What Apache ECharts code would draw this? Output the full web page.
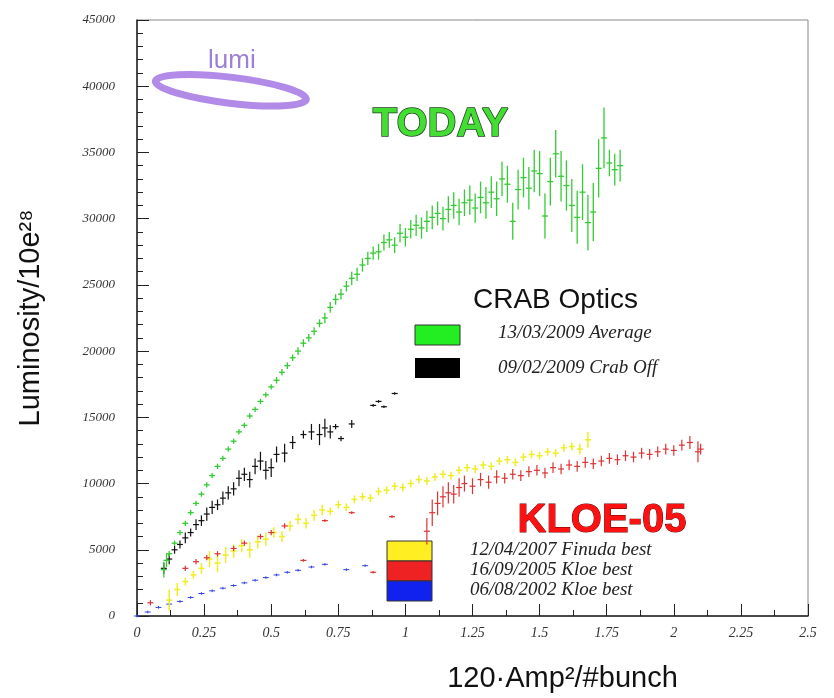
<!DOCTYPE html>
<html><head><meta charset="utf-8">
<script src="https://cdn.jsdelivr.net/npm/echarts@6/dist/echarts.min.js"></script>
<style>html,body{margin:0;background:#fff}#c{width:834px;height:698px}</style>
</head><body><div id="c"></div>
<script>
// x = 120*Amp^2/#bunch, y = luminosity/1e28, e = half error bar
var greenX = [0.10,0.11,0.12,0.14,0.16,0.18,0.20,0.22,0.24,0.26,0.28,0.30,0.32,0.34,0.36,0.38,0.40,0.42,0.44,0.46,0.48,0.50,0.52,0.54,0.56,0.58,0.60,0.62,0.64,0.66,0.68,0.70,0.72,0.74,0.76,0.78,0.80,0.82,0.84,0.86,0.88,0.90,0.92,0.94,0.96,0.98,1.00,1.02,1.04,1.06,1.08,1.10,1.12,1.14,1.16,1.18,1.20,1.22,1.24,1.26,1.28,1.30,1.32,1.34,1.36,1.38,1.40,1.42,1.44,1.46,1.48,1.50,1.52,1.54,1.56,1.58,1.60,1.62,1.64,1.66,1.68,1.70,1.72,1.74,1.76,1.78,1.80];
var greenY = [3500,4200,4700,5500,6300,7000,7800,8500,9200,9900,10600,11300,11900,12600,13200,13900,14400,15100,15600,16200,16700,17300,17800,18400,18900,19500,20000,20600,21000,21500,22100,22500,23300,23900,24300,24900,25500,25800,26500,27000,27400,27500,28200,28400,28000,28900,28600,29200,29500,29300,29800,30100,30400,30000,30700,31000,30500,31200,31400,30800,31600,31200,32000,31500,33000,32600,29800,32200,33100,32300,33600,33400,30200,32800,34900,33200,32500,31000,30100,32000,29700,30500,33800,36100,34200,33700,34000];
var greenE = [600,500,200,200,200,200,200,200,200,200,200,200,200,200,200,200,200,200,200,200,200,200,250,250,250,250,300,300,300,300,300,400,400,400,400,400,500,500,500,500,500,600,600,600,600,700,700,700,800,800,800,900,900,900,1000,1000,1000,1000,1100,1100,1200,1200,1200,1300,1300,1400,1400,1500,1500,1600,1600,1700,1700,1800,1800,1900,1900,2000,2000,2100,2100,2200,2200,2300,1000,1200,1200];

var blackX = [0.10,0.12,0.14,0.16,0.18,0.20,0.22,0.24,0.26,0.28,0.30,0.32,0.34,0.36,0.38,0.40,0.42,0.44,0.46,0.48,0.50,0.52,0.55,0.58,0.62,0.65,0.68,0.70,0.72,0.74,0.76,0.80,0.88,0.90,0.92,0.96];
var blackY = [3600,4300,5000,5400,5900,6300,6900,7200,7700,8200,8400,8900,9300,9600,10400,10700,10300,11300,11700,11000,11200,12200,12300,13100,13700,13900,13700,14200,13900,14300,13400,14500,15900,16200,15800,16800];
var blackE = [400,400,300,300,400,300,400,400,500,500,400,500,500,500,600,500,600,600,700,700,700,600,700,500,300,600,800,700,500,200,200,300,100,100,100,100];

var yellowX = [0.12,0.15,0.18,0.21,0.24,0.27,0.30,0.33,0.36,0.39,0.42,0.45,0.48,0.51,0.54,0.57,0.60,0.63,0.66,0.69,0.72,0.75,0.78,0.81,0.84,0.87,0.90,0.93,0.96,0.99,1.02,1.05,1.08,1.11,1.14,1.17,1.20,1.23,1.26,1.29,1.32,1.35,1.38,1.41,1.44,1.47,1.50,1.53,1.56,1.59,1.62,1.65,1.68];
var yellowY = [1200,2000,2600,3100,3600,4300,4000,4600,4900,5300,5000,5600,5800,6300,6000,6800,7300,7000,7600,8000,7900,8400,8200,8800,9000,8900,9400,9500,9800,9700,10000,10300,10200,10500,10700,10600,11000,11200,11100,11400,11300,11700,11800,11600,12000,12200,12100,12400,12300,12700,12800,12600,13300];
var yellowE = [800,500,300,300,400,600,700,600,500,500,600,500,500,400,400,400,400,400,400,400,300,300,300,300,300,300,300,300,300,300,300,300,300,300,300,300,300,300,300,300,300,300,300,300,300,300,300,300,300,300,300,400,600];

var redX = [0.05,0.18,0.22,0.26,0.30,0.36,0.40,0.46,0.50,0.55,0.62,0.70,0.80,0.88,0.95,1.08,1.10,1.12,1.14,1.16,1.18,1.20,1.22,1.25,1.28,1.31,1.34,1.37,1.40,1.43,1.46,1.49,1.52,1.55,1.58,1.61,1.64,1.67,1.70,1.73,1.76,1.79,1.82,1.85,1.88,1.91,1.94,1.97,2.00,2.03,2.06,2.09,2.10];
var redY = [1000,3600,4100,4400,4700,5100,5500,6000,6300,6800,4200,7200,7800,3300,7500,6400,7800,8500,9000,9300,9200,9700,10000,9800,10300,10100,10500,10400,10700,10600,10900,11000,10800,11200,11100,11400,11300,11600,11500,11700,11900,11800,12100,12000,12300,12200,12400,12600,12500,12900,13100,12400,12600];
var redE = [200,200,200,200,200,200,200,200,200,200,100,100,100,100,100,1000,1000,900,800,800,700,700,600,600,500,500,500,400,400,400,400,400,400,400,400,400,400,400,400,400,400,400,400,400,400,400,400,400,400,400,500,800,400];

var blueX = [0.00,0.04,0.08,0.12,0.16,0.20,0.24,0.28,0.32,0.36,0.40,0.44,0.48,0.52,0.56,0.60,0.65,0.70,0.78,0.85];
var blueY = [0,300,650,900,1100,1400,1700,1900,2100,2300,2500,2700,2900,3100,3300,3450,3700,3900,3500,3800];
var blueE = [100,100,100,100,100,100,100,100,100,100,100,100,100,100,100,100,100,100,100,100];

var xTicks = [0,0.25,0.5,0.75,1,1.25,1.5,1.75,2,2.25,2.5];

function pts(xs, ys, es) {
  var out = [];
  for (var i = 0; i < xs.length; i++) out.push([xs[i], ys[i], es[i]]);
  return out;
}
function errSeries(name, data, color, w) {
  return {
    name: name, type: 'custom', data: data, z: 3,
    renderItem: function (params, api) {
      var c = api.coord([api.value(0), api.value(1)]);
      var lo = api.coord([api.value(0), api.value(1) - api.value(2)]);
      var hi = api.coord([api.value(0), api.value(1) + api.value(2)]);
      var st = {stroke: color, lineWidth: w};
      return {type: 'group', children: [
        {type: 'line', shape: {x1: c[0], y1: lo[1], x2: c[0], y2: hi[1]}, style: st},
        {type: 'line', shape: {x1: c[0] - 3, y1: c[1], x2: c[0] + 3, y2: c[1]}, style: st}
      ]};
    }
  };
}

var chart = echarts.init(document.getElementById('c'));
var serif = 'Liberation Serif';
chart.setOption({
  animation: false,
  grid: {left: 137, right: 26, top: 20, bottom: 74, show: true, borderColor: '#888', borderWidth: 1},
  xAxis: {
    type: 'value', min: 0, max: 2.5, interval: 0.25,
    name: '120·Amp²/#bunch', nameLocation: 'middle', nameGap: 48,
    nameTextStyle: {fontFamily: 'Liberation Sans', fontSize: 29, color: '#111', padding: [0, 0, 0, 180]},
    axisLine: {lineStyle: {color: '#222', width: 1.5}},
    axisTick: {inside: true, length: 12, lineStyle: {color: '#222'}},
    minorTick: {show: true, splitNumber: 2, length: 6, lineStyle: {color: '#222'}},
    splitLine: {show: false},
    axisLabel: {fontFamily: serif, fontStyle: 'italic', fontSize: 14, color: '#333', margin: 10,
      formatter: function (v) { return xTicks.indexOf(v) >= 0 ? String(v) : ''; }}
  },
  yAxis: {
    type: 'value', min: 0, max: 45000, interval: 5000,
    name: 'Luminosity/10e²⁸', nameLocation: 'middle', nameGap: 92,
    nameTextStyle: {fontFamily: 'Liberation Sans', fontSize: 29, color: '#111'},
    axisLine: {show: true, lineStyle: {color: '#222', width: 1.5}},
    axisTick: {inside: true, length: 12, lineStyle: {color: '#222'}},
    minorTick: {show: true, splitNumber: 5, length: 6, lineStyle: {color: '#222'}},
    splitLine: {show: false},
    axisLabel: {fontFamily: serif, fontStyle: 'italic', fontSize: 13, color: '#333', margin: 22,
      formatter: function (v) { return String(v); }}
  },
  series: [
    errSeries('06/08/2002 Kloe best', pts(blueX, blueY, blueE), '#3344dd', 1),
    errSeries('12/04/2007 Finuda best', pts(yellowX, yellowY, yellowE), '#eeee22', 1.5),
    errSeries('16/09/2005 Kloe best', pts(redX, redY, redE), '#dd3333', 1.2),
    errSeries('09/02/2009 Crab Off', pts(blackX, blackY, blackE), '#111', 1.2),
    errSeries('13/03/2009 Average', pts(greenX, greenY, greenE), '#33cc33', 1.3)
  ],
  graphic: [
    {type: 'ellipse', shape: {cx: 240, cy: 62, rx: 76, ry: 13}, rotation: -0.12, style: {fill: 'none', stroke: '#b28ae8', lineWidth: 7}},
    {type: 'text', left: 208, top: 48, style: {text: 'lumi', font: '26px Liberation Sans', fill: '#9c7fd6'}},
    {type: 'text', left: 372, top: 104, style: {text: 'TODAY', font: 'bold 40px Liberation Sans', fill: '#44dd33', stroke: '#1a3a1a', lineWidth: 1.5}},
    {type: 'text', left: 473, top: 286, style: {text: 'CRAB Optics', font: '28px Liberation Sans', fill: '#111'}},
    {type: 'rect', shape: {x: 415, y: 325, width: 45, height: 20}, style: {fill: '#22ee22', stroke: '#333'}},
    {type: 'rect', shape: {x: 415, y: 358, width: 45, height: 20}, style: {fill: '#000'}},
    {type: 'text', left: 498, top: 323, style: {text: '13/03/2009 Average', font: 'italic 19px Liberation Serif', fill: '#222'}},
    {type: 'text', left: 498, top: 358, style: {text: '09/02/2009 Crab Off', font: 'italic 19px Liberation Serif', fill: '#222'}},
    {type: 'text', left: 517, top: 500, style: {text: 'KLOE-05', font: 'bold 40px Liberation Sans', fill: '#ff1111', stroke: '#660000', lineWidth: 1}},
    {type: 'rect', shape: {x: 387, y: 541, width: 45, height: 20}, style: {fill: '#ffee22', stroke: '#333'}},
    {type: 'rect', shape: {x: 387, y: 561, width: 45, height: 20}, style: {fill: '#ee2222', stroke: '#333'}},
    {type: 'rect', shape: {x: 387, y: 581, width: 45, height: 20}, style: {fill: '#1122ee', stroke: '#333'}},
    {type: 'text', left: 470, top: 540, style: {text: '12/04/2007 Finuda best', font: 'italic 19px Liberation Serif', fill: '#222'}},
    {type: 'text', left: 470, top: 560, style: {text: '16/09/2005 Kloe best', font: 'italic 19px Liberation Serif', fill: '#222'}},
    {type: 'text', left: 470, top: 580, style: {text: '06/08/2002 Kloe best', font: 'italic 19px Liberation Serif', fill: '#222'}}
  ]
});
</script></body></html>
